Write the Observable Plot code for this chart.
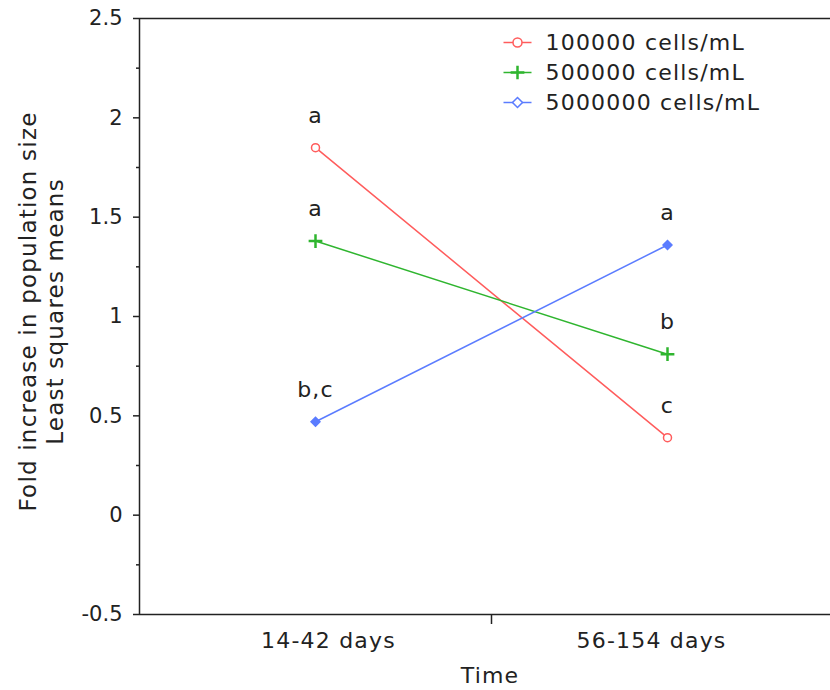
<!DOCTYPE html>
<html>
<head>
<meta charset="utf-8">
<script src="https://cdn.jsdelivr.net/npm/d3@7"></script>
<script src="https://cdn.jsdelivr.net/npm/@observablehq/plot@0.6"></script>
<style>
  html, body { margin: 0; padding: 0; background: #fff; }
  #chart svg text { letter-spacing: 1.2px; }
  #chart svg g[aria-label="y-axis tick label"] text { letter-spacing: 0; }
</style>
</head>
<body>
<div id="chart"></div>
<script>
// ---- data ----
const times = ["14-42 days", "56-154 days"];
const series = ["100000 cells/mL", "500000 cells/mL", "5000000 cells/mL"];
const values100k = [1.85, 0.39];
const values500k = [1.38, 0.81];
const values5m = [0.47, 1.36];
const letters100k = ["a", "c"];
const letters500k = ["a", "b"];
const letters5m = ["b,c", "a"];
const colors = ["#ff5c5c", "#2fb52f", "#5b7cff"];
const yMajorTicks = [-0.5, 0, 0.5, 1, 1.5, 2, 2.5];
const yMinorTicks = [-0.25, 0.25, 0.75, 1.25, 1.75, 2.25];
const xCategoryTicks = [1, 2];
const xDividerTicks = [1.5];

const allValues = [values100k, values500k, values5m];
const allLetters = [letters100k, letters500k, letters5m];
const rows = [];
series.forEach((s, si) => times.forEach((t, ti) => rows.push({
  series: s, time: ti + 1, value: allValues[si][ti], letter: allLetters[si][ti]
})));

const ink = "#222";
const lineSym = { draw(ctx) { ctx.moveTo(-14, 0); ctx.lineTo(14, 0); } };
const symbols = ["circle", "plus", "diamond2"];
const legendSymbols = ["circle", "plus", "diamond2"];

const legendMarks = [];
series.forEach((s, i) => {
  legendMarks.push(Plot.dot([s], { frameAnchor: "top-left", dx: 378, dy: 24 + 30 * i, symbol: lineSym, stroke: colors[i], strokeWidth: 1.5, r: 4 }));
  legendMarks.push(Plot.dot([s], { frameAnchor: "top-left", dx: 378, dy: 24 + 30 * i, symbol: legendSymbols[i], r: 4.5, stroke: colors[i], strokeWidth: i === 1 ? 2.5 : 1.5, fill: i === 1 ? "none" : "white" }));
  legendMarks.push(Plot.text([s], { frameAnchor: "top-left", dx: 406, dy: 24 + 30 * i, text: d => d, textAnchor: "start", lineAnchor: "middle", fontSize: 22, fill: ink }));
});

const chart = Plot.plot({
  width: 830,
  height: 690,
  marginLeft: 139,
  marginRight: 0,
  marginTop: 18,
  marginBottom: 76,
  style: { fontFamily: "DejaVu Sans", fontSize: "22px", color: ink, background: "white" },
  x: { type: "linear", domain: [0.5, 2.5], range: [139, 843], axis: null },
  y: { domain: [-0.5, 2.5], axis: null },
  color: { domain: series, range: colors },
  marks: [
    // frame lines
    Plot.ruleY([2.5], { stroke: ink, strokeWidth: 1.5 }),
    Plot.ruleY([-0.5], { stroke: ink, strokeWidth: 1.5 }),
    Plot.ruleX([0.5], { stroke: ink, strokeWidth: 1.5 }),
    // y axis
    Plot.axisY({ ticks: yMajorTicks, tickSize: 6, tickPadding: 11, tickFormat: d => String(d), fontSize: 21, label: null, stroke: ink, fill: ink, strokeWidth: 1.5 }),
    Plot.axisY({ ticks: yMinorTicks, tickSize: 3, tickFormat: () => "", label: null, stroke: ink, strokeWidth: 1.5 }),
    // x axis
    Plot.axisX({ ticks: xDividerTicks, tickSize: 10, tickFormat: () => "", label: null, stroke: ink, strokeWidth: 1.5 }),
    Plot.axisX({ ticks: [xCategoryTicks[0]], tickSize: 0, tickPadding: 18, dx: 13, tickFormat: i => times[i - 1], fontSize: 22, label: null, fill: ink }),
    Plot.axisX({ ticks: [xCategoryTicks[1]], tickSize: 0, tickPadding: 18, dx: -16, tickFormat: i => times[i - 1], fontSize: 22, label: null, fill: ink }),
    Plot.text(["Time"], { frameAnchor: "bottom", dx: 5, dy: 61, text: d => d, lineAnchor: "middle", fontSize: 22, fill: ink }),
    Plot.text(["Fold increase in population size\nLeast squares means"], { frameAnchor: "left", textAnchor: "middle", rotate: -90, dx: -99, dy: -5, text: d => d, lineAnchor: "middle", lineHeight: 1.2, fontSize: 23, fill: ink }),
    // data
    Plot.line(rows, { x: "time", y: "value", z: "series", stroke: "series", strokeWidth: 1.5 }),
    ...series.map((s, i) => Plot.dot(rows.filter(d => d.series === s), {
      x: "time", y: "value", symbol: symbols[i],
      r: i === 1 ? 4.5 : 4,
      stroke: colors[i], strokeWidth: i === 1 ? 2.5 : 1.5,
      fill: i === 0 ? "white" : (i === 2 ? colors[i] : "none")
    })),
    Plot.text(rows, { x: "time", y: "value", text: "letter", dy: -32, fontSize: 22, fill: ink }),
    ...legendMarks
  ]
});
document.getElementById("chart").appendChild(chart);
</script>
</body>
</html>
